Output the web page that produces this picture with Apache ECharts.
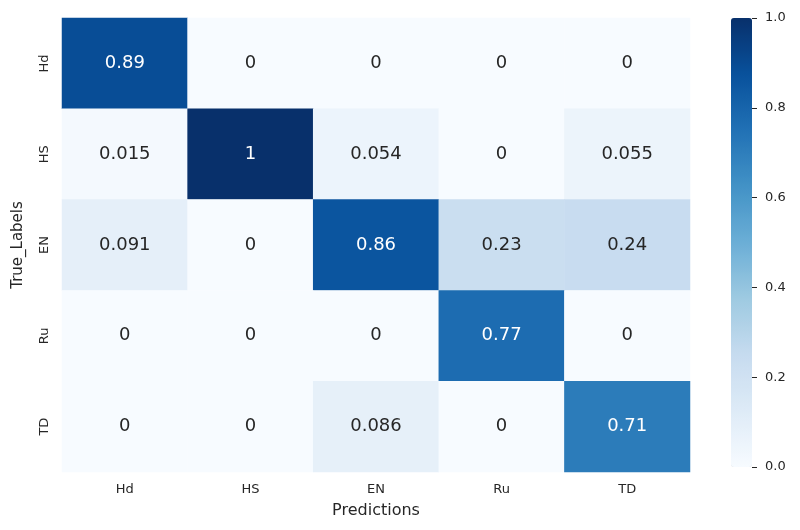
<!DOCTYPE html>
<html>
<head>
<meta charset="utf-8">
<script src="https://cdn.jsdelivr.net/npm/echarts@6/dist/echarts.min.js"></script>
<style>html,body{margin:0;padding:0;background:#fff}#c{width:800px;height:530px}</style>
</head>
<body>
<div id="c"></div>
<script>
const predLabels = ['Hd', 'HS', 'EN', 'Ru', 'TD'];
const trueLabels = ['Hd', 'HS', 'EN', 'Ru', 'TD'];
const rowHd = [0.89, 0, 0, 0, 0];
const rowHS = [0.015, 1, 0.054, 0, 0.055];
const rowEN = [0.091, 0, 0.86, 0.23, 0.24];
const rowRu = [0, 0, 0, 0.77, 0];
const rowTD = [0, 0, 0.086, 0, 0.71];
const colorbarTicks = [0, 0.2, 0.4, 0.6, 0.8, 1.0];

const rows = [rowHd, rowHS, rowEN, rowRu, rowTD];
const blues = ['#f7fbff','#deebf7','#c6dbef','#9ecae1','#6baed6','#4292c6','#2171b5','#08519c','#08306b'];
const FONT = 'DejaVu Sans';
const data = [];
rows.forEach((r, yi) => r.forEach((v, xi) => {
  data.push({value: [xi, yi, v], label: {color: v > 0.5 ? '#ffffff' : '#262626'}});
}));

const chart = echarts.init(document.getElementById('c'), null, {renderer: 'canvas'});
chart.setOption({
  backgroundColor: '#ffffff',
  animation: false,
  textStyle: {fontFamily: FONT},
  grid: [
    {left: 62, top: 18, width: 628, height: 454},
    {left: 731, top: 18, width: 21, height: 449}
  ],
  xAxis: [
    {type: 'category', data: predLabels, gridIndex: 0,
     name: 'Predictions', nameLocation: 'middle', nameGap: 31,
     nameTextStyle: {fontSize: 16, color: '#262626', fontFamily: FONT},
     axisLine: {show: false}, axisTick: {show: false}, splitLine: {show: false},
     axisLabel: {fontSize: 13, color: '#262626', margin: 11, fontFamily: FONT}},
    {type: 'category', gridIndex: 1, show: false, data: ['']}
  ],
  yAxis: [
    {type: 'category', data: trueLabels, gridIndex: 0, inverse: true,
     name: 'True_Labels', nameLocation: 'middle', nameGap: 36,
     nameTextStyle: {fontSize: 15, color: '#262626', fontFamily: FONT},
     axisLine: {show: false}, axisTick: {show: false}, splitLine: {show: false},
     axisLabel: {fontSize: 13, color: '#262626', rotate: 90, margin: 11, fontFamily: FONT}},
    {type: 'value', gridIndex: 1, position: 'right', min: 0, max: 1, interval: 0.2, z: 10,
     axisLine: {show: false, onZero: false}, splitLine: {show: false},
     axisTick: {show: true, length: 5, lineStyle: {color: '#262626', width: 1}},
     axisLabel: {fontSize: 13, color: '#262626', margin: 13, fontFamily: FONT,
       formatter: v => colorbarTicks.find(t => Math.abs(t - v) < 1e-9).toFixed(1)}}
  ],
  visualMap: {
    type: 'continuous', min: 0, max: 1, calculable: false, orient: 'vertical',
    left: 731, top: 18, itemWidth: 21, itemHeight: 449, padding: 0, z: 1,
    text: null, showLabel: false, hoverLink: false, seriesIndex: 0,
    inRange: {color: blues}
  },
  series: [{
    type: 'heatmap', xAxisIndex: 0, yAxisIndex: 0, data: data,
    label: {show: true, fontSize: 18, fontFamily: FONT, formatter: p => String(p.value[2])},
    itemStyle: {borderWidth: 0},
    emphasis: {disabled: true}
  }]
});
</script>
</body>
</html>
